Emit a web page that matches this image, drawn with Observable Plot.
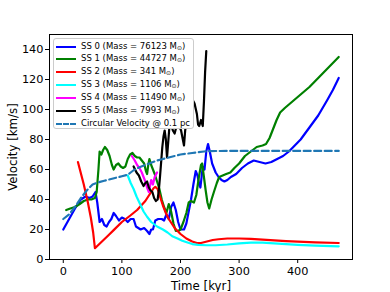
<!DOCTYPE html>
<html>
<head>
<meta charset="utf-8">
<script src="https://cdn.jsdelivr.net/npm/d3@7"></script>
<script src="https://cdn.jsdelivr.net/npm/@observablehq/plot@0.6"></script>
<style>
  html, body { margin: 0; padding: 0; background: white; }
  #wrap { position: relative; width: 390px; height: 292px; font-family: "DejaVu Sans", sans-serif; }
  #legend {
    position: absolute; left: 53px; top: 38px; width: 139px; height: 89px;
    border: 1px solid #cccccc; border-radius: 3px; background: #ffffff;
    font-size: 8.5px; color: #000; box-sizing: content-box; padding-top: 0px;
  }
  .row { position: relative; height: 12.9px; line-height: 12.9px; white-space: nowrap; }
  .row:first-child { margin-top: 0.5px; }
  .sw { position: absolute; left: 2px; top: 6px; width: 20px; height: 0; border-top: 2.2px solid; }
  .lbl { position: absolute; left: 27px; top: 0; }
  .lbl sub { font-size: 6px; vertical-align: -1px; line-height: 0; }
</style>
</head>
<body>
<div id="wrap"><div id="legend"></div></div>
<script>
// ---- data (time in kyr, velocity in km/s) ----
const names = ["SS 0", "SS 1", "SS 2", "SS 3", "SS 4", "SS 5"];
const masses = ["76123", "44727", "341", "1106", "11490", "7993"];
const colors = ["#0000ff", "#008000", "#ff0000", "#00ffff", "#ff00ff", "#000000"];
const circColor = "#1f77b4";
const circLabel = "Circular Velocity @ 0.1 pc";
const xTicks = [0, 100, 200, 300, 400];
const yTicks = [0, 20, 40, 60, 80, 100, 120, 140];

const ss0 = [[0,20],[10,27],[20,34],[30,40],[38,42],[45,41],[50,42],[55,45],[58,38],[62,25],[66,27],[70,23],[74,22],[78,25],[82,27],[86,31],[90,29],[95,26],[100,28],[105,27],[110,25],[115,27],[120,27],[124,22],[128,21],[132,20],[138,21],[143,19],[147,17],[150,20],[153,20],[157,26],[162,27],[168,27],[172,26],[176,30],[180,27],[184,35],[188,38],[192,33],[196,25],[200,20],[206,20],[210,24],[214,32],[218,40],[222,50],[226,59],[229,56],[232,50],[234,48],[236,55],[238,62],[241,60],[244,72],[247,77],[250,72],[254,64],[260,58],[265,55],[270,53],[275,52],[280,53],[286,55],[295,57],[305,61],[315,64],[325,66],[335,65],[345,64],[355,65],[365,67],[375,69],[385,72],[395,76],[405,80],[420,88],[435,96],[450,106],[460,113],[470,121]];

const ss1 = [[5,33],[12,34],[20,35],[28,37],[35,39],[42,40],[48,40],[54,41],[57,45],[60,60],[62,72],[65,70],[68,73],[71,75],[75,73],[79,69],[83,63],[86,60],[90,63],[94,64],[98,62],[102,61],[106,62],[110,67],[114,70],[118,71],[122,69],[126,68],[130,68],[134,66],[138,64],[141,59],[143,57],[145,63],[147,67],[150,63],[153,60],[156,57],[160,52],[164,47],[168,40],[172,35],[176,31],[180,37],[184,32],[188,24],[192,19],[196,19],[200,20],[205,25],[210,31],[214,38],[218,39],[223,38],[227,43],[231,54],[235,63],[237,64],[240,55],[243,46],[246,38],[249,34],[253,40],[257,45],[262,51],[266,55],[272,56],[278,57],[285,58],[292,61],[300,64],[310,69],[320,72],[330,75],[340,76],[346,77],[352,81],[358,87],[364,93],[370,98],[378,101],[390,105],[405,110],[420,115],[435,121],[450,127],[470,135]];

const ss2 = [[25,65],[35,50],[42,38],[47,28],[51,18],[54,7.5],[62,10.5],[70,13.5],[78,16.5],[86,19.6],[100,25],[115,29.5],[126,33],[133,36],[140,39],[145,42],[150,45],[154,47.5],[157,48.4],[161,47],[165,42],[170,36],[175,31],[180,27],[185,24],[190,21],[200,17],[210,14],[220,12],[228,11],[235,11],[245,12],[255,13],[265,13.5],[280,14],[300,14],[320,13.8],[340,13.3],[360,12.8],[380,12.3],[400,11.9],[430,11.4],[470,11]];

const ss3 = [[110,56],[115,51],[120,47],[125,42],[131,37],[137,32],[143,28.5],[150,25],[160,22],[170,20],[178,18],[186,15.5],[195,14],[203,12.5],[212,11.3],[220,10.3],[230,9.8],[245,9.5],[260,9.5],[280,10],[300,10.7],[320,11.2],[340,11.2],[360,10.7],[380,10.2],[400,9.7],[430,9.2],[470,8.8]];

const ss4 = [[117,69],[122,66],[126,63],[130,61],[134,58],[137,55],[140,52],[143,48],[146,45],[148,49],[150,53],[153,50],[156,55],[160,58]];

const ss5 = [[120,62],[125,58],[129,56],[133,52],[137,49],[140,51],[143,52],[146,48],[149,46],[152,45],[155,41],[158,39],[161,40],[163,46],[165,55],[167,65],[169,75],[171,82],[173,86],[175,80],[177,68],[179,78],[181,88],[184,90],[187,86],[190,84],[194,90],[198,89],[201,86],[204,80],[206,76],[208,86],[212,97],[216,104],[220,107],[224,104],[228,97],[230,90],[232,89],[235,93],[238,89],[240,105],[242,125],[244,139]];

const circ = [[0,27],[10,30],[20,35],[30,41],[40,46],[50,50],[60,51.5],[70,52.5],[80,53.5],[90,54.5],[100,55.5],[110,56.5],[115,58],[120,59.5],[130,61.5],[140,63],[150,64.5],[160,66],[170,67],[180,68],[190,69],[200,70],[210,70.5],[220,71],[230,71.5],[240,72],[250,72.3],[300,72.4],[400,72.4],[470,72.4]];

const seriesData = [ss0, ss1, ss2, ss3, ss4, ss5];

// ---- chart ----
const lineW = 2.2;
const chart = Plot.plot({
  width: 390,
  height: 292,
  marginLeft: 49,
  marginRight: 38,
  marginTop: 34,
  marginBottom: 33,
  style: { fontFamily: "DejaVu Sans", fontSize: "11px", background: "white", color: "black", overflow: "visible" },
  x: { domain: [-23.5, 493.5] },
  y: { domain: [0, 150] },
  marks: [
    ...seriesData.map((d, i) => Plot.line(d, { x: p => p[0], y: p => p[1], stroke: colors[i], strokeWidth: lineW, curve: "linear" })),
    Plot.line(circ, { x: p => p[0], y: p => p[1], stroke: circColor, strokeWidth: lineW, strokeDasharray: "7,3.5" }),
    Plot.frame({ stroke: "black", strokeWidth: 1 }),
    Plot.axisX({ ticks: xTicks, tickSize: 4, tickPadding: 3, tickFormat: d => String(d), label: null, fontSize: 11.3 }),
    Plot.axisX({ ticks: [], label: "Time [kyr]", labelAnchor: "center", labelArrow: "none", labelOffset: 30, fontSize: 11.8 }),
    Plot.axisY({ ticks: yTicks, tickSize: 4, tickPadding: 2, tickFormat: d => String(d), label: null, fontSize: 11.3 }),
    Plot.axisY({ ticks: [], label: "Velocity [km/s]", labelAnchor: "center", labelArrow: "none", labelOffset: 41, fontSize: 11.8 })
  ]
});
const wrap = document.getElementById("wrap");
wrap.insertBefore(chart, wrap.firstChild);

// ---- legend (inside the axes, upper left) ----
const legend = document.getElementById("legend");
names.forEach((n, i) => {
  const row = document.createElement("div");
  row.className = "row";
  const sw = document.createElement("div");
  sw.className = "sw";
  sw.style.borderTopColor = colors[i];
  const lbl = document.createElement("span");
  lbl.className = "lbl";
  lbl.innerHTML = `${n} (Mass = ${masses[i]} M<sub>⊙</sub>)`;
  row.appendChild(sw); row.appendChild(lbl);
  legend.appendChild(row);
});
{
  const row = document.createElement("div");
  row.className = "row";
  const sw = document.createElement("div");
  sw.className = "sw";
  sw.style.borderTop = `2.2px dashed ${circColor}`;
  const lbl = document.createElement("span");
  lbl.className = "lbl";
  lbl.textContent = circLabel;
  row.appendChild(sw); row.appendChild(lbl);
  legend.appendChild(row);
}
</script>
</body>
</html>
